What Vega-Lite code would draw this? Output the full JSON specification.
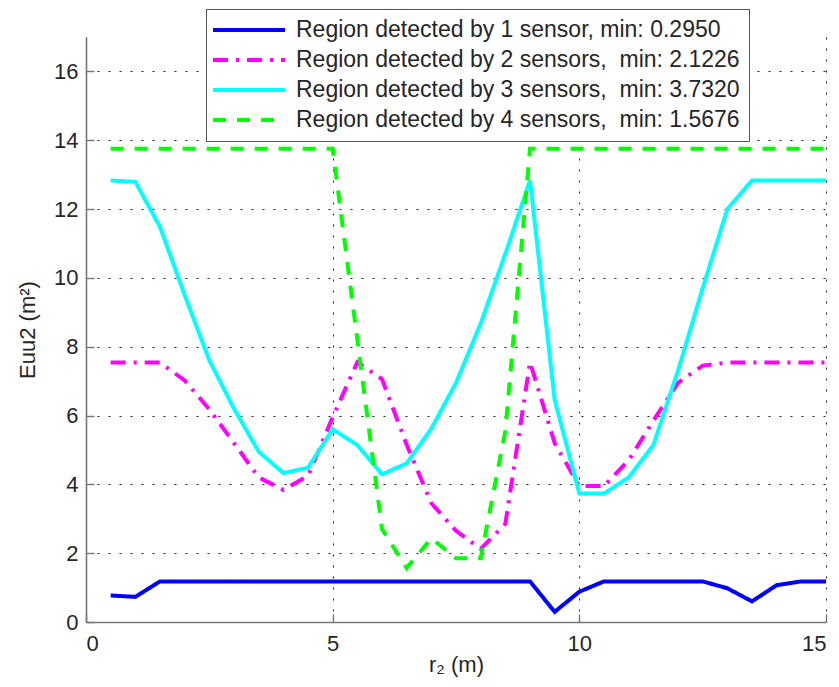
{
  "$schema": "https://vega.github.io/schema/vega-lite/v6.json",
  "width": 740,
  "height": 585,
  "autosize": {"type": "none"},
  "padding": {"left": 86, "top": 37, "right": 13, "bottom": 65},
  "background": "white",
  "config": {
    "view": {"stroke": null},
    "font": "Liberation Sans",
    "axis": {
      "grid": true,
      "gridDash": [2, 9],
      "gridColor": "#222222",
      "gridWidth": 1,
      "domainColor": "#777777",
      "domainWidth": 1.6,
      "tickColor": "#777777",
      "tickWidth": 1.4,
      "tickSize": -8,
      "labelFont": "Liberation Sans",
      "labelFontSize": 22,
      "labelColor": "#262626",
      "titleFont": "Liberation Sans",
      "titleFontSize": 22,
      "titleFontWeight": "normal",
      "titleColor": "#262626"
    },
    "legend": {
      "title": null,
      "orient": "none",
      "legendX": 120,
      "legendY": -28,
      "direction": "vertical",
      "fillColor": "white",
      "strokeColor": "#555555",
      "padding": 9,
      "symbolType": "M-3.6,0H3.6",
      "symbolSize": 400,
      "symbolStrokeWidth": 4,
      "symbolOffset": 22,
      "labelOffset": 35,
      "labelFont": "Liberation Sans",
      "labelFontSize": 23,
      "labelColor": "#262626",
      "labelLimit": 600,
      "rowPadding": 6
    }
  },
  "data": {
    "values": [
      {"r2": 0.5, "s1": 0.77, "s2": 7.54, "s3": 12.83, "s4": 13.75},
      {"r2": 1.0, "s1": 0.73, "s2": 7.54, "s3": 12.79, "s4": 13.75},
      {"r2": 1.5, "s1": 1.18, "s2": 7.54, "s3": 11.48, "s4": 13.75},
      {"r2": 2.0, "s1": 1.18, "s2": 7.02, "s3": 9.5, "s4": 13.75},
      {"r2": 2.5, "s1": 1.18, "s2": 6.18, "s3": 7.6, "s4": 13.75},
      {"r2": 3.0, "s1": 1.18, "s2": 5.2, "s3": 6.2, "s4": 13.75},
      {"r2": 3.5, "s1": 1.18, "s2": 4.2, "s3": 4.95, "s4": 13.75},
      {"r2": 4.0, "s1": 1.18, "s2": 3.84, "s3": 4.33, "s4": 13.75},
      {"r2": 4.5, "s1": 1.18, "s2": 4.25, "s3": 4.48, "s4": 13.75},
      {"r2": 5.0, "s1": 1.18, "s2": 5.95, "s3": 5.6, "s4": 13.75},
      {"r2": 5.5, "s1": 1.18, "s2": 7.55, "s3": 5.14, "s4": 8.2},
      {"r2": 6.0, "s1": 1.18, "s2": 7.06, "s3": 4.29, "s4": 2.7},
      {"r2": 6.5, "s1": 1.18, "s2": 5.15, "s3": 4.61, "s4": 1.5676},
      {"r2": 7.0, "s1": 1.18, "s2": 3.45, "s3": 5.62, "s4": 2.43},
      {"r2": 7.5, "s1": 1.18, "s2": 2.65, "s3": 6.95, "s4": 1.85},
      {"r2": 8.0, "s1": 1.18, "s2": 2.1226, "s3": 8.67, "s4": 1.85},
      {"r2": 8.5, "s1": 1.18, "s2": 2.85, "s3": 10.7, "s4": 5.55},
      {"r2": 9.0, "s1": 1.18, "s2": 7.55, "s3": 12.83, "s4": 13.75},
      {"r2": 9.5, "s1": 0.295, "s2": 5.2, "s3": 6.45, "s4": 13.75},
      {"r2": 10.0, "s1": 0.88, "s2": 3.95, "s3": 3.732, "s4": 13.75},
      {"r2": 10.5, "s1": 1.18, "s2": 3.95, "s3": 3.732, "s4": 13.75},
      {"r2": 11.0, "s1": 1.18, "s2": 4.7, "s3": 4.2, "s4": 13.75},
      {"r2": 11.5, "s1": 1.18, "s2": 5.85, "s3": 5.14, "s4": 13.75},
      {"r2": 12.0, "s1": 1.18, "s2": 6.95, "s3": 7.3, "s4": 13.75},
      {"r2": 12.5, "s1": 1.18, "s2": 7.45, "s3": 9.7, "s4": 13.75},
      {"r2": 13.0, "s1": 0.98, "s2": 7.54, "s3": 12.0, "s4": 13.75},
      {"r2": 13.5, "s1": 0.6, "s2": 7.54, "s3": 12.83, "s4": 13.75},
      {"r2": 14.0, "s1": 1.07, "s2": 7.54, "s3": 12.83, "s4": 13.75},
      {"r2": 14.5, "s1": 1.18, "s2": 7.54, "s3": 12.83, "s4": 13.75},
      {"r2": 15.0, "s1": 1.18, "s2": 7.54, "s3": 12.83, "s4": 13.75}
    ]
  },
  "transform": [
    {"fold": ["s1", "s2", "s3", "s4"], "as": ["series", "value"]}
  ],
  "mark": {"type": "line", "strokeWidth": 4, "clip": true},
  "encoding": {
    "x": {
      "field": "r2",
      "type": "quantitative",
      "scale": {"domain": [0, 15], "nice": false, "zero": false},
      "axis": {"values": [0, 5, 10, 15], "labelPadding": 19, "title": "r₂ (m)", "titlePadding": 0}
    },
    "y": {
      "field": "value",
      "type": "quantitative",
      "scale": {"domain": [0, 17], "nice": false},
      "axis": {"values": [0, 2, 4, 6, 8, 10, 12, 14, 16], "labelPadding": 16, "title": "Euu2 (m²)", "titlePadding": 14}
    },
    "color": {
      "field": "series",
      "type": "nominal",
      "scale": {"domain": ["s1", "s2", "s3", "s4"], "range": ["#0000ff", "#ff00ff", "#00ffff", "#00ff00"]},
      "legend": {
        "labelExpr": "datum.label == 's1' ? 'Region detected by 1 sensor, min: 0.2950' : datum.label == 's2' ? 'Region detected by 2 sensors,\u00a0 min: 2.1226' : datum.label == 's3' ? 'Region detected by 3 sensors,\u00a0 min: 3.7320' : 'Region detected by 4 sensors,\u00a0 min: 1.5676'"
      }
    },
    "strokeDash": {
      "field": "series",
      "type": "nominal",
      "scale": {"domain": ["s1", "s2", "s3", "s4"], "range": [[1, 0], [15, 8, 3, 8], [1, 0], [13, 11]]},
      "legend": {
        "labelExpr": "datum.label == 's1' ? 'Region detected by 1 sensor, min: 0.2950' : datum.label == 's2' ? 'Region detected by 2 sensors,\u00a0 min: 2.1226' : datum.label == 's3' ? 'Region detected by 3 sensors,\u00a0 min: 3.7320' : 'Region detected by 4 sensors,\u00a0 min: 1.5676'"
      }
    }
  }
}
